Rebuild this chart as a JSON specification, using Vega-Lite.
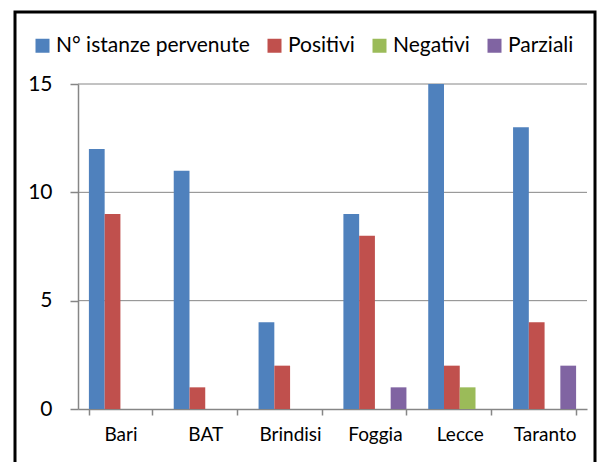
{
  "$schema": "https://vega.github.io/schema/vega-lite/v6.json",
  "autosize": {"type": "none"},
  "padding": {"left": 15, "top": 12, "right": 2, "bottom": 0},
  "width": 580,
  "height": 460,
  "background": "white",
  "config": {
    "view": {"stroke": "black", "strokeWidth": 3},
    "font": "Lato"
  },
  "datasets": {
    "bars": [
      {"provincia": "Bari", "serie": "N° istanze pervenute", "valore": 12},
      {"provincia": "Bari", "serie": "Positivi", "valore": 9},
      {"provincia": "Bari", "serie": "Negativi", "valore": 0},
      {"provincia": "Bari", "serie": "Parziali", "valore": 0},
      {"provincia": "BAT", "serie": "N° istanze pervenute", "valore": 11},
      {"provincia": "BAT", "serie": "Positivi", "valore": 1},
      {"provincia": "BAT", "serie": "Negativi", "valore": 0},
      {"provincia": "BAT", "serie": "Parziali", "valore": 0},
      {"provincia": "Brindisi", "serie": "N° istanze pervenute", "valore": 4},
      {"provincia": "Brindisi", "serie": "Positivi", "valore": 2},
      {"provincia": "Brindisi", "serie": "Negativi", "valore": 0},
      {"provincia": "Brindisi", "serie": "Parziali", "valore": 0},
      {"provincia": "Foggia", "serie": "N° istanze pervenute", "valore": 9},
      {"provincia": "Foggia", "serie": "Positivi", "valore": 8},
      {"provincia": "Foggia", "serie": "Negativi", "valore": 0},
      {"provincia": "Foggia", "serie": "Parziali", "valore": 1},
      {"provincia": "Lecce", "serie": "N° istanze pervenute", "valore": 15},
      {"provincia": "Lecce", "serie": "Positivi", "valore": 2},
      {"provincia": "Lecce", "serie": "Negativi", "valore": 1},
      {"provincia": "Lecce", "serie": "Parziali", "valore": 0},
      {"provincia": "Taranto", "serie": "N° istanze pervenute", "valore": 13},
      {"provincia": "Taranto", "serie": "Positivi", "valore": 4},
      {"provincia": "Taranto", "serie": "Negativi", "valore": 0},
      {"provincia": "Taranto", "serie": "Parziali", "valore": 2}
    ],
    "grid": [{"g": 5}, {"g": 10}, {"g": 15}]
  },
  "layer": [
    {
      "data": {"name": "grid"},
      "mark": {"type": "rule", "color": "#868686", "strokeWidth": 1},
      "encoding": {
        "y": {"field": "g", "type": "quantitative"},
        "x": {"datum": 0, "type": "quantitative", "scale": {"domain": [0, 1], "range": [63, 572], "nice": false, "zero": false}, "axis": null},
        "x2": {"datum": 1}
      }
    },
    {
      "data": {"name": "bars"},
      "mark": {"type": "bar"},
      "encoding": {
        "x": {
          "field": "provincia", "type": "nominal", "sort": ["Bari", "BAT", "Brindisi", "Foggia", "Lecce", "Taranto"],
          "scale": {"range": [63, 572], "paddingInner": 0.257, "paddingOuter": 0.1285},
          "axis": {
            "title": null, "orient": "bottom", "offset": -63, "labelAngle": 0,
            "tickBand": "extent", "tickSize": 6, "tickColor": "#868686", "tickWidth": 1.5,
            "domainColor": "#868686", "domainWidth": 1.5,
            "labelFont": "Lato", "labelFontSize": 19, "labelColor": "black", "labelPadding": 10
          }
        },
        "xOffset": {"field": "serie", "type": "nominal", "sort": ["N° istanze pervenute", "Positivi", "Negativi", "Parziali"]},
        "y": {
          "field": "valore", "type": "quantitative",
          "scale": {"domain": [0, 15], "range": [397, 72], "nice": false},
          "axis": {
            "title": null, "orient": "left", "offset": -63, "values": [0, 5, 10, 15], "grid": false,
            "tickSize": 8, "tickColor": "#868686", "tickWidth": 1.5,
            "domainColor": "#868686", "domainWidth": 1.5,
            "labelFont": "Lato", "labelFontSize": 21, "labelColor": "black", "labelPadding": 18
          }
        },
        "color": {
          "field": "serie", "type": "nominal",
          "scale": {"domain": ["N° istanze pervenute", "Positivi", "Negativi", "Parziali"], "range": ["#4F81BD", "#C0504D", "#9BBB59", "#8064A2"]},
          "legend": {
            "title": null, "orient": "none", "legendX": 17, "legendY": 23, "direction": "horizontal",
            "symbolType": "square", "symbolSize": 196, "symbolStrokeWidth": 0, "symbolOpacity": 1,
            "labelFont": "Lato", "labelFontSize": 21, "labelColor": "black", "labelOffset": 3, "labelLimit": 400,
            "columnPadding": 14
          }
        }
      }
    }
  ],
  "resolve": {"scale": {"x": "independent"}}
}
